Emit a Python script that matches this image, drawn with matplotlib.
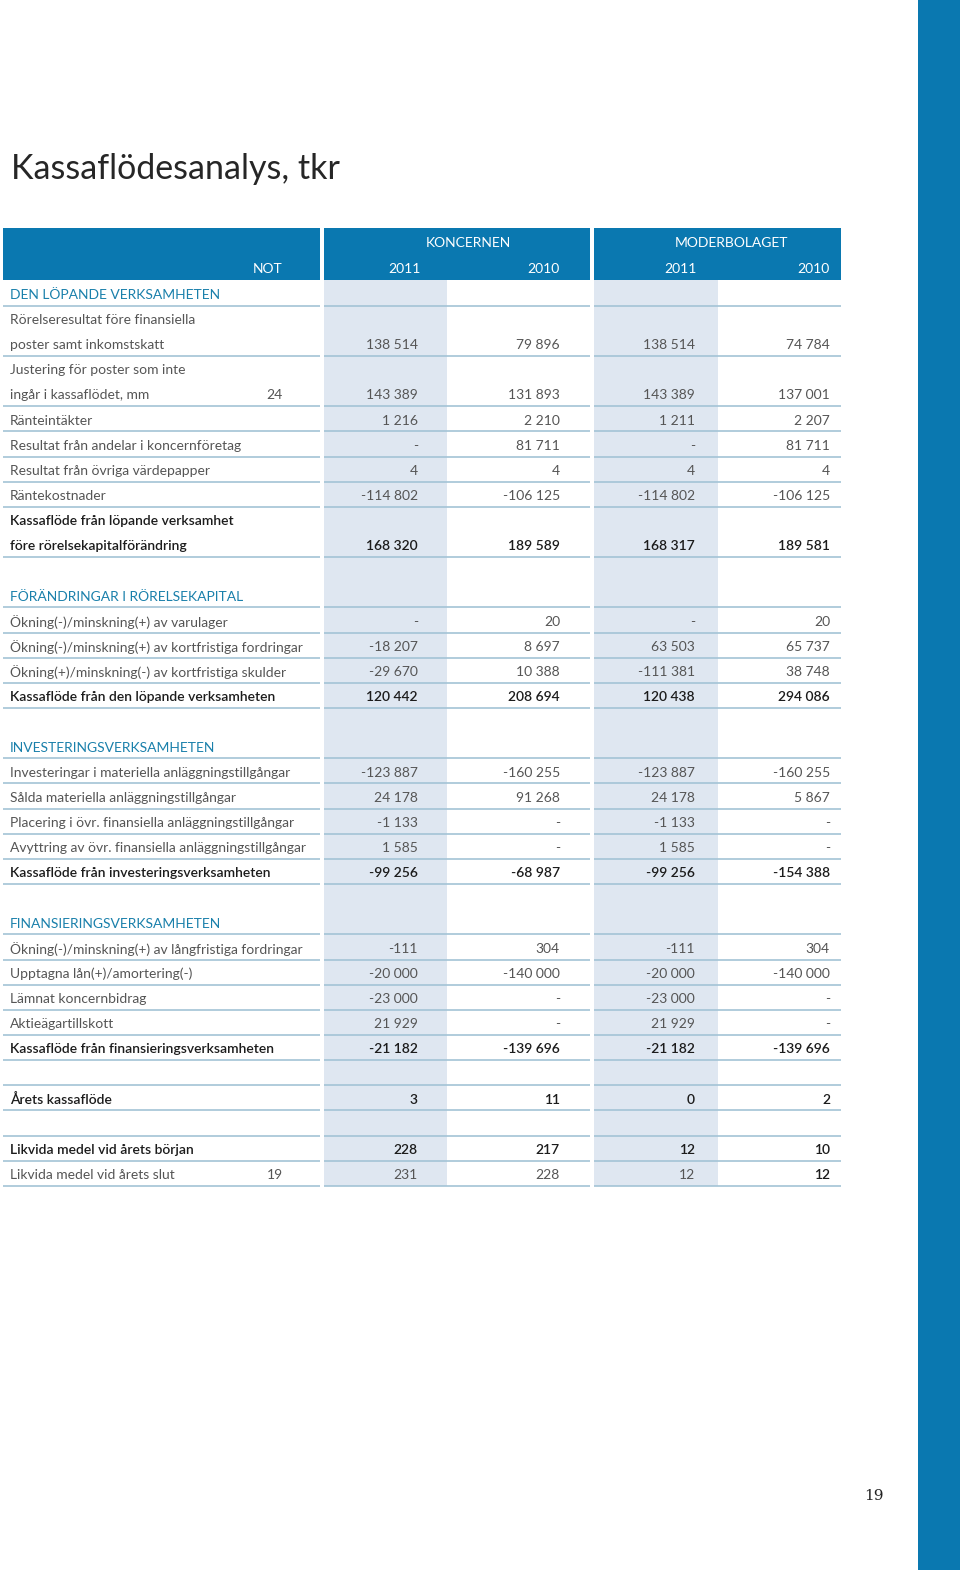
import matplotlib.pyplot as plt
from matplotlib.patches import Rectangle

# row texts and values (tkr)
labels = [
    'DEN LÖPANDE VERKSAMHETEN',
    'Rörelseresultat före finansiella',
    'poster samt inkomstskatt',
    'Justering för poster som inte',
    'ingår i kassaflödet, mm',
    'Ränteintäkter',
    'Resultat från andelar i koncernföretag',
    'Resultat från övriga värdepapper',
    'Räntekostnader',
    'Kassaflöde från löpande verksamhet',
    'före rörelsekapitalförändring',
    '',
    'FÖRÄNDRINGAR I RÖRELSEKAPITAL',
    'Ökning(-)/minskning(+) av varulager',
    'Ökning(-)/minskning(+) av kortfristiga fordringar',
    'Ökning(+)/minskning(-) av kortfristiga skulder',
    'Kassaflöde från den löpande verksamheten',
    '',
    'INVESTERINGSVERKSAMHETEN',
    'Investeringar i materiella anläggningstillgångar',
    'Sålda materiella anläggningstillgångar',
    'Placering i övr. finansiella anläggningstillgångar',
    'Avyttring av övr. finansiella anläggningstillgångar',
    'Kassaflöde från investeringsverksamheten',
    '',
    'FINANSIERINGSVERKSAMHETEN',
    'Ökning(-)/minskning(+) av långfristiga fordringar',
    'Upptagna lån(+)/amortering(-)',
    'Lämnat koncernbidrag',
    'Aktieägartillskott',
    'Kassaflöde från finansieringsverksamheten',
    '',
    'Årets kassaflöde',
    '',
    'Likvida medel vid årets början',
    'Likvida medel vid årets slut',
]
notes = {4: '24', 35: '19'}
kon_2011 = ['', '', '138 514', '', '143 389', '1 216', '-', '4', '-114 802', '', '168 320', '',
            '', '-', '-18 207', '-29 670', '120 442', '',
            '', '-123 887', '24 178', '-1 133', '1 585', '-99 256', '',
            '', '-111', '-20 000', '-23 000', '21 929', '-21 182', '',
            '3', '', '228', '231']
kon_2010 = ['', '', '79 896', '', '131 893', '2 210', '81 711', '4', '-106 125', '', '189 589', '',
            '', '20', '8 697', '10 388', '208 694', '',
            '', '-160 255', '91 268', '-', '-', '-68 987', '',
            '', '304', '-140 000', '-', '-', '-139 696', '',
            '11', '', '217', '228']
mod_2011 = ['', '', '138 514', '', '143 389', '1 211', '-', '4', '-114 802', '', '168 317', '',
            '', '-', '63 503', '-111 381', '120 438', '',
            '', '-123 887', '24 178', '-1 133', '1 585', '-99 256', '',
            '', '-111', '-20 000', '-23 000', '21 929', '-21 182', '',
            '0', '', '12', '12']
mod_2010 = ['', '', '74 784', '', '137 001', '2 207', '81 711', '4', '-106 125', '', '189 581', '',
            '', '20', '65 737', '38 748', '294 086', '',
            '', '-160 255', '5 867', '-', '-', '-154 388', '',
            '', '304', '-140 000', '-', '-', '-139 696', '',
            '2', '', '10', '12']

sections = {0, 12, 18, 25}
bold_rows = {9, 10, 16, 23, 30, 32, 34}
no_rule = {1, 3, 9, 11, 17, 24}

BLUE = '#0a78b0'
TEAL = '#1a80ab'
SHADE = '#dfe7f1'
RULE = '#a3c4d6'
GREY = '#555555'
DARK = '#1c1c1c'
FS = 10

plt.rcParams['font.family'] = ['Lato', 'DejaVu Sans']

fig = plt.figure(figsize=(9.6, 15.7), dpi=100)
ax = fig.add_axes([0, 0, 1, 1])
ax.set_xlim(0, 960)
ax.set_ylim(1570, 0)
ax.axis('off')

# right page band
ax.add_patch(Rectangle((918, 0), 42, 1570, color=BLUE, lw=0))

ax.text(11, 169, 'Kassaflödesanalys, tkr', fontsize=24.5, fontweight='normal',
        color='#262626', va='center', ha='left')

y0, pitch = 293, 25.15
top, bottom = 280, 293 + pitch * (len(labels) - 1) + 13
ty = 1.8  # text baseline nudge

# column shading
for x0, x1 in [(324, 447), (594, 718)]:
    ax.add_patch(Rectangle((x0, top), x1 - x0, bottom - top, color=SHADE, lw=0))

# header blocks
blocks = [(3, 320), (324, 590), (594, 841)]
for x0, x1 in blocks:
    ax.add_patch(Rectangle((x0, 228), x1 - x0, top - 228, color=BLUE, lw=0))
hdr = dict(color='white', fontsize=FS, va='center')
ax.text(468, 243, 'KONCERNEN', ha='center', **hdr)
ax.text(731, 243, 'MODERBOLAGET', ha='center', **hdr)
ax.text(283, 269, 'NOT', ha='right', **hdr)
ax.text(404, 269, '2011', ha='center', **hdr)
ax.text(560, 269, '2010', ha='right', **hdr)
ax.text(680, 269, '2011', ha='center', **hdr)
ax.text(830, 269, '2010', ha='right', **hdr)

value_cols = [(418, kon_2011), (560, kon_2010), (695, mod_2011), (830, mod_2010)]

for i, lab in enumerate(labels):
    y = y0 + pitch * i
    if i in sections:
        col, fw = TEAL, 'normal'
    elif i in bold_rows:
        col, fw = DARK, 'semibold'
    else:
        col, fw = GREY, 'normal'
    ax.text(10, y + ty, lab, fontsize=FS, color=col, fontweight=fw, va='center', ha='left')
    if i in notes:
        ax.text(283, y + ty, notes[i], fontsize=FS, color=GREY, va='center', ha='right')
    for xr, vals in value_cols:
        v = vals[i]
        if not v:
            continue
        vc, vw = col, fw
        if i == 35 and vals is mod_2010:
            vc, vw = DARK, 'semibold'
        ax.text(xr, y + ty, v, fontsize=FS, color=vc, fontweight=vw, va='center', ha='right')
    if i not in no_rule:
        yl = y + 12.6
        for x0, x1 in blocks:
            ax.plot([x0, x1], [yl, yl], color=RULE, lw=1.2, solid_capstyle='butt')

ax.text(874, 1496, '19', fontsize=11, family='DejaVu Serif', color='#222222',
        va='center', ha='center')

fig.savefig('out.png', dpi=100)
